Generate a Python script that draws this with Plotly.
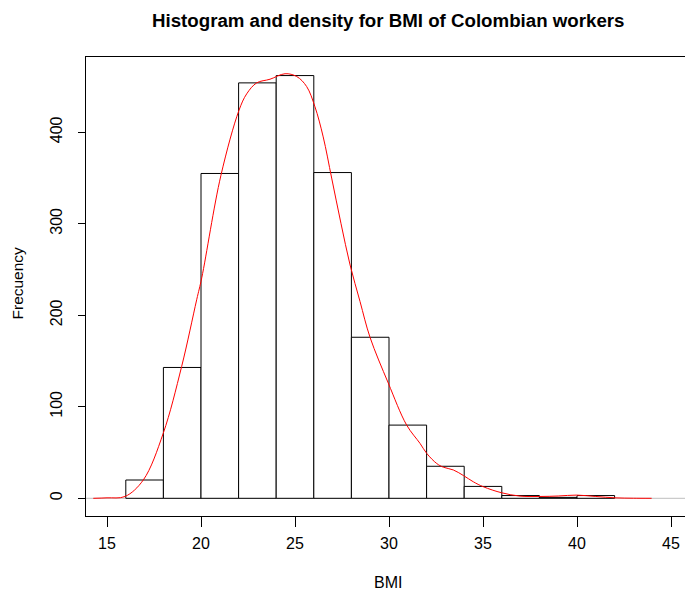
import plotly.graph_objects as go

# Histogram of BMI: bin edges (width 2) and counts per bin
bin_edges = [16, 18, 20, 22, 24, 26, 28, 30, 32, 34, 36, 38, 40, 42]
counts = [20, 143, 355, 454, 462, 356, 176, 80, 35, 13, 3, 1, 3]

# Kernel density estimate, scaled to frequency units
dens_x = [14.27, 15.0, 15.96, 16.93, 17.99, 18.97, 19.77, 20.04, 21.06, 22.02,
          22.43, 22.96, 23.67, 24.47, 25.09, 25.62, 26.06, 26.5, 26.95, 27.45,
          27.93, 28.46, 28.99, 29.96, 30.94, 31.65, 32.01, 32.54, 32.89, 33.42,
          33.95, 34.49, 35.02, 36.0, 36.97, 38.03, 39.0, 39.98, 41.0, 42.02,
          43.0, 43.97]
dens_y = [0, 0.5, 2, 20, 71, 144, 217, 241, 353, 424,
          442, 454, 458, 464, 461, 450, 428, 395, 350, 300,
          255, 215, 176, 126, 80, 60, 49, 38, 34, 31,
          25, 18, 12.6, 6, 2.4, 2, 2.5, 3.5, 2, 0.5,
          0.1, 0]

x_ticks = [15, 20, 25, 30, 35, 40, 45]
y_ticks = [0, 100, 200, 300, 400]

mids = [(a + b) / 2 for a, b in zip(bin_edges[:-1], bin_edges[1:])]
widths = [b - a for a, b in zip(bin_edges[:-1], bin_edges[1:])]

FONT = "Liberation Sans, Arial, Helvetica, sans-serif"

fig = go.Figure()
fig.add_trace(go.Bar(
    x=mids, y=counts, width=widths,
    marker=dict(color="white", line=dict(color="black", width=1)),
    hoverinfo="x+y", showlegend=False,
))
fig.add_trace(go.Scatter(
    x=dens_x, y=dens_y, mode="lines", line_shape="spline",
    line=dict(color="red", width=1), showlegend=False,
))

# zero reference line of the density plot
fig.add_shape(type="line", xref="paper", yref="y", x0=0, x1=1, y0=0, y1=0,
              line=dict(color="#bebebe", width=1), layer="below")

W, H = 685, 592
L, R, T, B = 86, 0, 57, 76
px_per_x = 18.8
px_per_y = 0.915
x_lo = 15 - (107 - L) / px_per_x
x_hi = x_lo + (W - L - R) / px_per_x
y_lo = -(516 - 498.3) / px_per_y
y_hi = y_lo + (H - T - B) / px_per_y
cx = (388 - L) / (W - L - R)

fig.update_layout(
    width=W, height=H,
    margin=dict(l=L, r=R, t=T, b=B, pad=0),
    paper_bgcolor="white", plot_bgcolor="white",
    font=dict(family=FONT, size=16, color="black"),
    xaxis=dict(range=[x_lo, x_hi], tickvals=x_ticks, ticks="outside", ticklen=10,
               tickcolor="black", showline=True, linecolor="black", linewidth=1,
               mirror=True, showgrid=False, zeroline=False,
               ticklabelstandoff=3, tickfont=dict(size=16)),
    yaxis=dict(range=[y_lo, y_hi], tickvals=y_ticks, ticks="outside", ticklen=7,
               tickcolor="black", showline=True, linecolor="black", linewidth=1,
               mirror=False, showgrid=False, zeroline=False, tickangle=-90,
               ticklabelstandoff=10, tickfont=dict(size=16)),
    annotations=[
        dict(text="<b>Histogram and density for BMI of Colombian workers</b>",
             xref="paper", yref="paper", x=cx, y=1,
             yshift=57 - 20, showarrow=False, xanchor="center", yanchor="middle",
             font=dict(size=18.7)),
        dict(text="BMI", xref="paper", yref="paper", x=cx, y=0,
             yshift=-(582 - 516), showarrow=False, xanchor="center", yanchor="middle",
             font=dict(size=16)),
        dict(text="Frecuency", xref="paper", yref="paper", x=0, y=0.5,
             xshift=-(L - 17), yshift=3, showarrow=False, xanchor="center",
             yanchor="middle", textangle=-90, font=dict(size=15.5)),
    ],
)

fig.write_html("out.html")
